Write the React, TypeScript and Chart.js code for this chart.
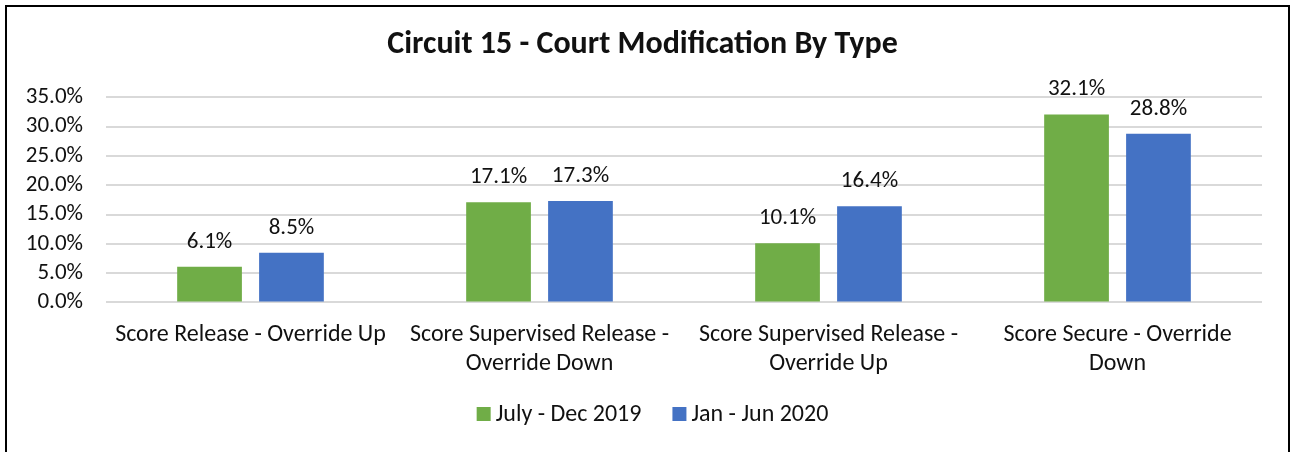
import React, { useEffect, useRef } from "react";
import { Chart, registerables } from "chart.js";

Chart.register(...registerables);

const categories: string[][] = [
  ["Score Release - Override Up"],
  ["Score Supervised Release -", "Override Down"],
  ["Score Supervised Release -", "Override Up"],
  ["Score Secure - Override", "Down"],
];
const seriesNames = ["July - Dec 2019", "Jan - Jun 2020"];
const julyDec2019 = [6.1, 17.1, 10.1, 32.1];
const janJun2020 = [8.5, 17.3, 16.4, 28.8];
const yTicks = [0, 5, 10, 15, 20, 25, 30, 35];
const titleText = "Circuit 15 - Court Modification By Type";

const FONT = 'Carlito, "Open Sans", sans-serif';
const TEXT = "#111";

const dataLabels = {
  id: "dataLabels",
  afterDatasetsDraw(chart: any) {
    const ctx = chart.ctx;
    ctx.save();
    ctx.font = `23px ${FONT}`;
    ctx.fillStyle = TEXT;
    ctx.textAlign = "center";
    ctx.textBaseline = "alphabetic";
    chart.data.datasets.forEach((ds: any, i: number) => {
      const meta = chart.getDatasetMeta(i);
      meta.data.forEach((el: any, j: number) => {
        ctx.fillText(Number(ds.data[j]).toFixed(1) + "%", el.x, el.y - 19);
      });
    });
    ctx.restore();
  },
};

const bottomLegend = {
  id: "bottomLegend",
  afterDraw(chart: any) {
    const ctx = chart.ctx;
    const box = 14;
    const gapBoxText = 5;
    const gapItems = 31;
    ctx.save();
    ctx.font = `24px ${FONT}`;
    ctx.textBaseline = "middle";
    ctx.textAlign = "left";
    const items = chart.data.datasets.map((ds: any) => ({
      label: ds.label,
      color: ds.backgroundColor,
      w: box + gapBoxText + ctx.measureText(ds.label).width,
    }));
    const total =
      items.reduce((s: number, it: any) => s + it.w, 0) +
      gapItems * (items.length - 1);
    let x = chart.width / 2 - total / 2 + 5;
    const y = chart.height - 38;
    items.forEach((it: any) => {
      ctx.fillStyle = it.color;
      ctx.fillRect(x, y - box / 2, box, box);
      ctx.fillStyle = TEXT;
      ctx.fillText(it.label, x + box + gapBoxText, y + 1);
      x += it.w + gapItems;
    });
    ctx.restore();
  },
};

export default function App() {
  const ref = useRef<HTMLCanvasElement>(null);
  useEffect(() => {
    if (!ref.current) return;
    const chart = new Chart(ref.current, {
      type: "bar",
      data: {
        labels: categories,
        datasets: [
          {
            label: seriesNames[0],
            data: julyDec2019,
            backgroundColor: "#70AD47",
            categoryPercentage: 0.567,
            barPercentage: 0.79,
          },
          {
            label: seriesNames[1],
            data: janJun2020,
            backgroundColor: "#4472C4",
            categoryPercentage: 0.567,
            barPercentage: 0.79,
          },
        ],
      },
      options: {
        animation: false,
        responsive: true,
        maintainAspectRatio: false,
        layout: { padding: { top: 0, left: 16, right: 26, bottom: 55 } },
        plugins: {
          title: {
            display: true,
            text: titleText,
            color: TEXT,
            font: { family: FONT, size: 32, weight: "bold" },
            padding: { top: 19, bottom: 33 },
          },
          legend: { display: false },
          tooltip: { enabled: false },
        },
        scales: {
          x: {
            grid: { display: false, drawTicks: false },
            border: { display: false },
            ticks: {
              color: TEXT,
              font: { family: FONT, size: 24, lineHeight: 1.22 },
              padding: 18,
              autoSkip: false,
              maxRotation: 0,
            },
          },
          y: {
            min: 0,
            max: 35,
            afterBuildTicks: (axis: any) => {
              axis.ticks = yTicks.map((v) => ({ value: v }));
            },
            afterFit: (axis: any) => {
              axis.width = 83;
            },
            grid: { color: "#d9d9d9", lineWidth: 2, drawTicks: false },
            border: { display: false },
            ticks: {
              color: TEXT,
              font: { family: FONT, size: 23 },
              padding: 23,
              autoSkip: false,
              callback: (v: any) => Number(v).toFixed(1) + "%",
            },
          },
        },
      },
      plugins: [dataLabels, bottomLegend],
    });
    return () => chart.destroy();
  }, []);
  return (
    <div
      style={{
        position: "fixed",
        left: 5,
        top: 5,
        width: 1285,
        height: 480,
        border: "2px solid #000",
        boxSizing: "border-box",
        background: "#fff",
      }}
    >
      <div style={{ position: "relative", width: 1281, height: 445 }}>
        <canvas ref={ref} />
      </div>
    </div>
  );
}
